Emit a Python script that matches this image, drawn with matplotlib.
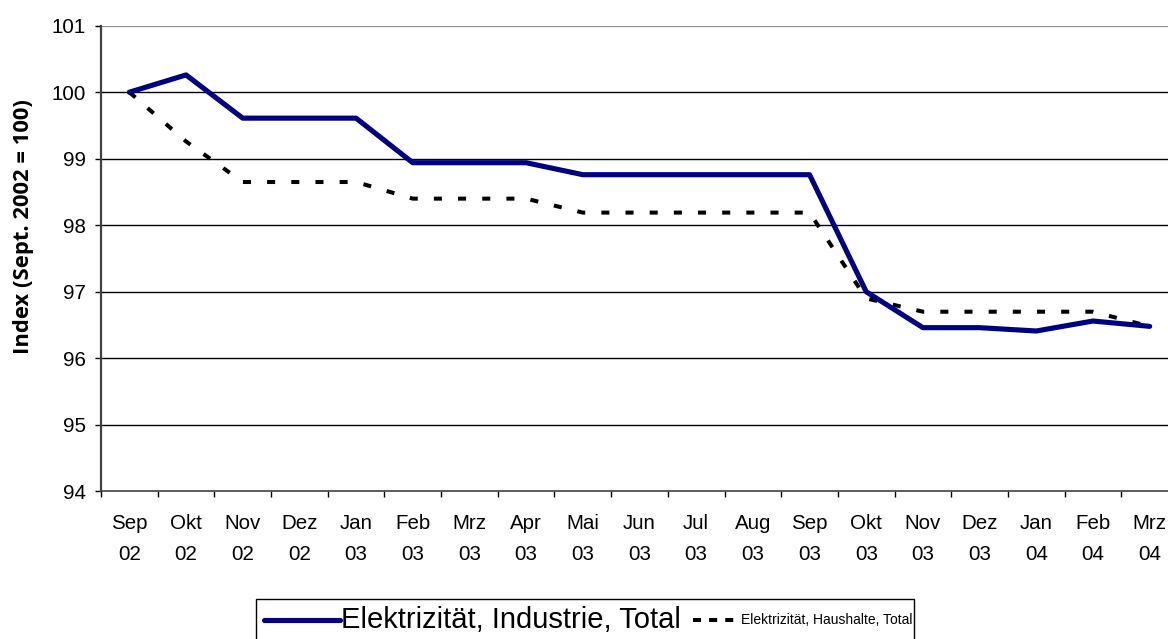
import matplotlib
matplotlib.use("Agg")
import matplotlib.pyplot as plt
from matplotlib.lines import Line2D
from matplotlib.patches import Rectangle
import numpy as np

categories = ["Sep\n02", "Okt\n02", "Nov\n02", "Dez\n02", "Jan\n03", "Feb\n03", "Mrz\n03",
              "Apr\n03", "Mai\n03", "Jun\n03", "Jul\n03", "Aug\n03", "Sep\n03", "Okt\n03",
              "Nov\n03", "Dez\n03", "Jan\n04", "Feb\n04", "Mrz\n04"]
industrie = [100.0, 100.26, 99.61, 99.61, 99.61, 98.94, 98.94, 98.94, 98.76, 98.76,
             98.76, 98.76, 98.76, 97.0, 96.46, 96.46, 96.41, 96.56, 96.48]
haushalte = [100.0, 99.26, 98.65, 98.65, 98.65, 98.40, 98.40, 98.40, 98.19, 98.19,
             98.19, 98.19, 98.19, 96.90, 96.70, 96.70, 96.70, 96.70, 96.48]
y_ticks = [94, 95, 96, 97, 98, 99, 100, 101]
label_ind = "Elektrizität, Industrie, Total"
label_hh = "Elektrizität, Haushalte, Total"
y_label = "Index (Sept. 2002 = 100)"

plt.rcParams['font.family'] = ['Liberation Sans', 'DejaVu Sans']

W, H = 1168, 639
fig = plt.figure(figsize=(W / 100, H / 100), dpi=100)
left, right, top, bottom = 101, 1178, 25.7, 491.3
ax = fig.add_axes([left / W, 1 - bottom / H, (right - left) / W, (bottom - top) / H])

x = np.arange(len(categories))
ax.set_xlim(-0.5, len(categories) - 0.5)
ax.set_ylim(94, 101)

for v in y_ticks[1:-1]:
    ax.axhline(v, color="black", lw=1.0, zorder=1)
ax.axhline(101, color="#909090", lw=1.6, zorder=1)

ax.plot(x, haushalte, color="black", lw=2.9, dashes=(2, 4), dash_capstyle="butt", zorder=3)
ax.plot(x, industrie, color="#000080", lw=3.7, solid_capstyle="round",
        solid_joinstyle="round", zorder=4)

for s in ["top", "right"]:
    ax.spines[s].set_visible(False)
ax.spines["left"].set_color("#404040")
ax.spines["left"].set_linewidth(1.6)
ax.spines["bottom"].set_color("#404040")
ax.spines["bottom"].set_linewidth(1.2)

ax.set_yticks(y_ticks)
ax.set_yticklabels([str(v) for v in y_ticks], fontsize=14.8)
ax.tick_params(axis="y", length=4, width=1, color="black", pad=7)

ax.set_xticks(np.arange(len(categories) + 1) - 0.5, minor=False)
ax.set_xticklabels([])
ax.tick_params(axis="x", which="major", length=4, width=1, color="black")
ax.set_xticks(x, minor=True)
ax.set_xticklabels(categories, minor=True, fontsize=14.8, linespacing=1.85)
ax.tick_params(axis="x", which="minor", length=0, pad=16)

fig.text(24 / W, 1 - 227 / H, y_label, rotation=90, ha="center", va="center",
         fontsize=15.8, fontweight="bold", family=["Open Sans", "DejaVu Sans"])

# legend
lx0, ly0, lx1, ly1 = 256, 599, 914, 642
fig.patches.append(Rectangle((lx0 / W, 1 - ly1 / H), (lx1 - lx0) / W, (ly1 - ly0) / H,
                             transform=fig.transFigure, facecolor="white",
                             edgecolor="black", lw=1.0))
ym = 1 - 620 / H
fig.lines.append(Line2D([264 / W, 340 / W], [ym, ym], transform=fig.transFigure,
                        color="#000080", lw=3.7, solid_capstyle="round"))
fig.text(341 / W, ym, label_ind, fontsize=21, va="center", ha="left")
fig.lines.append(Line2D([693 / W, 740 / W], [ym, ym], transform=fig.transFigure,
                        color="black", lw=2.9, dashes=(2, 2), dash_capstyle="butt"))
fig.text(741 / W, ym, label_hh, fontsize=10, va="center", ha="left")

fig.savefig("out.png", dpi=100)
